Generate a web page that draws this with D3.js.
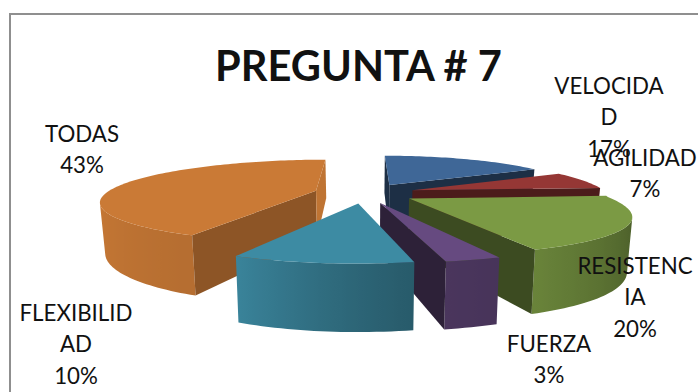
<!DOCTYPE html>
<html>
<head>
<meta charset="utf-8">
<script src="https://cdn.jsdelivr.net/npm/d3@7"></script>
<style>
  html, body { margin: 0; padding: 0; background: #fff; overflow: hidden; }
  svg { display: block; }
  text { font-family: Lato, "Open Sans", sans-serif; fill: #111; }
</style>
</head>
<body>
<script>
// Survey results, read clockwise from twelve o'clock
const categories = ["VELOCIDAD", "AGILIDAD", "RESISTENCIA", "FUERZA", "FLEXIBILIDAD", "TODAS"];
const values = [17, 7, 20, 3, 10, 43];
const wrappedNames = [["VELOCIDA", "D"], ["AGILIDAD"], ["RESISTENC", "IA"], ["FUERZA"], ["FLEXIBILID", "AD"], ["TODAS"]];
const chartTitle = "PREGUNTA # 7";

// Styling per slice
const topColors = ["#3f6797", "#953735", "#7b9a44", "#664a80", "#3d8ba3", "#ca7a36"];
const startFaceDark = [2.2, 1.9, 2.0, 2.3, 1.5, 1.0];
const endFaceDark = [2.2, 1.9, 2.0, 2.3, 1.5, 0.15];
const wallDarkStart = [2.0, 1.5, 2.0, 1.0, 1.2, 0.3];
const wallDarkEnd = [2.0, 1.5, 0.45, 0.9, 0.15, -0.5];

// Label centres on the page (x, first baseline)
const labelX = [609, 645, 635, 549, 76, 82];
const labelY = [94, 166, 274, 352, 321, 142];

const width = 698, height = 392;
const view = { cx: 365, cy: 193, scaleX: 202, scaleY: 165, persp: 0.24, skew: 0.025, bulge: 27, depth: 48, taper: 0.98, explode: 0.25 };

const svg = d3.select("body").append("svg").attr("width", width).attr("height", height);
const defs = svg.append("defs");

// Chart frame: only its top and left edges fall inside the page
svg.append("rect").attr("x", 10).attr("y", 14).attr("width", 720).attr("height", 420)
  .attr("fill", "#fff").attr("stroke", "#8f8f8f").attr("stroke-width", 2);

// Perspective projection of a point on the unit pie; level 0 is the top plane, 1 the bottom.
// The front right quadrant is pushed outwards a little, as the camera sits off-centre.
function project(px, pz, level) {
  const s = 1 / (1 + view.persp * pz);
  const push = view.bulge * Math.max(0, px) * Math.max(0, -pz - 0.1);
  const xs = (view.scaleX * px * s / (1 + view.skew * px) + push) * (level ? view.taper : 1);
  return [view.cx + xs, view.cy + view.scaleY * (s - 1) + level * view.depth * s];
}

const pie = d3.pie().sort(null).value(d => d);
const slices = pie(values).map((d, i) => {
  const mid = (d.startAngle + d.endAngle) / 2;
  return {
    i,
    a0: d.startAngle,
    a1: d.endAngle,
    mid,
    ox: view.explode * Math.sin(mid),
    oz: view.explode * Math.cos(mid)
  };
});

const rimPoint = (s, a, level) => project(s.ox + Math.sin(a), s.oz + Math.cos(a), level);
const apexPoint = (s, level) => project(s.ox, s.oz, level);

const polygon = d3.line();
const closed = pts => polygon(pts) + "Z";
// Negated so that a negative value means a quad turned towards the viewer
const signedArea = pts => -d3.polygonArea(pts);

const pieLayer = svg.append("g");

// Paint the slices from back to front
slices.slice().sort((p, q) => Math.cos(q.mid) - Math.cos(p.mid)).forEach(s => {
  const g = pieLayer.append("g");
  const base = d3.color(topColors[s.i]);
  const steps = Math.max(6, Math.ceil((s.a1 - s.a0) * 40));
  const angle = d3.scaleLinear().domain([0, steps]).range([s.a0, s.a1]);
  const shade = d3.scaleLinear().domain([s.a0, s.a1]).range([wallDarkStart[s.i], wallDarkEnd[s.i]]);

  // Outer wall: one shape over the strips that face the viewer, shaded by a gradient along x
  const visible = d3.range(steps).filter(k => {
    const a = angle(k), b = angle(k + 1);
    return signedArea([rimPoint(s, a, 0), rimPoint(s, b, 0), rimPoint(s, b, 1), rimPoint(s, a, 1)]) < 0;
  });
  if (visible.length) {
    const ks = [...visible, visible[visible.length - 1] + 1];
    const upper = ks.map(k => rimPoint(s, angle(k), 0));
    const lower = ks.map(k => rimPoint(s, angle(k), 1)).reverse();
    const x1 = upper[0][0], x2 = upper[upper.length - 1][0];
    const gradient = defs.append("linearGradient").attr("id", "wall" + s.i)
      .attr("gradientUnits", "userSpaceOnUse")
      .attr("x1", x1).attr("x2", x2).attr("y1", 0).attr("y2", 0);
    ks.forEach((k, n) => {
      gradient.append("stop")
        .attr("offset", (upper[n][0] - x1) / (x2 - x1))
        .attr("stop-color", base.darker(Math.max(0, shade(angle(k)))).formatHex());
    });
    g.append("path").attr("d", closed([...upper, ...lower])).attr("fill", `url(#wall${s.i})`);
  }

  // Cut faces, keeping only the ones turned towards the viewer
  const faceQuad = a => [apexPoint(s, 0), rimPoint(s, a, 0), rimPoint(s, a, 1), apexPoint(s, 1)];
  const startQuad = faceQuad(s.a0), endQuad = faceQuad(s.a1);
  if (signedArea(startQuad) < 0) {
    g.append("path").attr("d", closed(startQuad)).attr("fill", base.darker(startFaceDark[s.i]).formatHex());
  }
  if (signedArea(endQuad) > 0) {
    g.append("path").attr("d", closed(endQuad)).attr("fill", base.darker(endFaceDark[s.i]).formatHex());
  }

  // Top surface
  const rim = d3.range(steps + 1).map(k => rimPoint(s, angle(k), 0));
  g.append("path").attr("d", closed([apexPoint(s, 0), ...rim])).attr("fill", base.formatHex());
});

// Title
svg.append("text").attr("x", 358.5).attr("y", 81).attr("text-anchor", "middle")
  .attr("font-size", 41.6).attr("font-weight", 700).text(chartTitle);

// Data labels: wrapped name followed by the percentage
const total = d3.sum(values);
const lineGap = 31.3;
categories.forEach((name, i) => {
  const lines = [...wrappedNames[i], Math.round(values[i] / total * 100) + "%"];
  const label = svg.append("text").attr("text-anchor", "middle").attr("font-size", 22.3);
  lines.forEach((t, j) => {
    label.append("tspan").attr("x", labelX[i]).attr("y", labelY[i] + j * lineGap).text(t);
  });
});
</script>
</body>
</html>
